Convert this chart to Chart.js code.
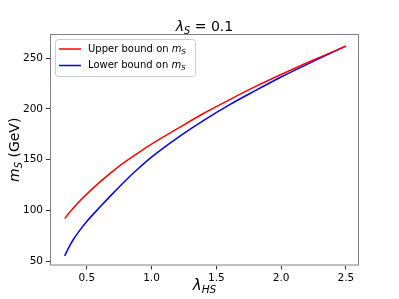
<!DOCTYPE html>
<html>
<head>
    <title>Bounds on m_S</title>
    <meta charset="UTF-8">
    <script src="https://cdn.jsdelivr.net/npm/chart.js"></script>
    <style>
        body { margin: 0; background: #fff; }
        canvas { display: block; }
    </style>
</head>
<body>
    <canvas id="boundsChart" width="399" height="299"></canvas>
    <script>
        // values
        const lambdaHS = [0.33, 0.35, 0.37, 0.4, 0.45, 0.5, 0.6, 0.7, 0.8, 0.9, 1.0, 1.2, 1.4, 1.6, 1.8, 2.0, 2.2, 2.4, 2.5];
        const upperMS = [92, 95.2, 98.3, 102.8, 109.7, 116, 127.8, 138.5, 148.2, 157, 165.3, 180.5, 195.5, 209, 222, 234, 245.5, 256.5, 262];
        const lowerMS = [55, 60.5, 65.5, 72, 81, 89, 103, 116.5, 129.5, 141.5, 152.5, 171.5, 188.5, 204, 218, 231.5, 244, 256, 262];
        const xTicks = [0.5, 1.0, 1.5, 2.0, 2.5];
        const yTicks = [50, 100, 150, 200, 250];
        const seriesNames = ['Upper bound on ', 'Lower bound on '];
        const seriesColors = ['#ff0000', '#0000ff'];

        const FONT = "'DejaVu Sans', sans-serif";

        function toPoints(ys) {
            return lambdaHS.map((x, i) => ({ x: x, y: ys[i] }));
        }

        // draws text pieces like λ + subscript S
        function drawRich(ctx, parts, x, y, size, align) {
            let total = 0;
            const sized = parts.map(p => {
                const s = p.sub ? size * 0.7 : size;
                ctx.font = (p.italic ? 'italic ' : '') + s + 'px ' + FONT;
                const w = ctx.measureText(p.t).width;
                total += w;
                return { p: p, s: s, w: w };
            });
            let cx = align === 'center' ? x - total / 2 : x;
            ctx.textBaseline = 'middle';
            ctx.textAlign = 'left';
            sized.forEach(o => {
                ctx.font = (o.p.italic ? 'italic ' : '') + o.s + 'px ' + FONT;
                ctx.fillText(o.p.t, cx, o.p.sub ? y + size * 0.3 : y);
                cx += o.w;
            });
        }

        const decorations = {
            id: 'decorations',
            afterDraw(chart) {
                const ctx = chart.ctx;
                const a = chart.chartArea;
                ctx.save();
                // frame
                ctx.strokeStyle = '#808080';
                ctx.lineWidth = 1;
                ctx.strokeRect(a.left + 0.5, a.top + 0.5, a.right - a.left - 1, a.bottom - a.top - 1);

                ctx.fillStyle = '#000';
                const midX = (a.left + a.right) / 2;
                // title
                drawRich(ctx, [{ t: 'λ', italic: true }, { t: 'S', italic: true, sub: true }, { t: ' = 0.1' }], midX, 27, 14, 'center');
                // x label
                drawRich(ctx, [{ t: 'λ', italic: true }, { t: 'HS', italic: true, sub: true }], midX, 286, 15, 'center');
                // y label
                ctx.save();
                ctx.translate(15, (a.top + a.bottom) / 2);
                ctx.rotate(-Math.PI / 2);
                drawRich(ctx, [{ t: 'm', italic: true }, { t: 'S', italic: true, sub: true }, { t: ' (GeV)' }], 0, 0, 14, 'center');
                ctx.restore();

                // legend
                const lx = a.left + 5, ly = a.top + 5, lw = 140, lh = 37;
                ctx.beginPath();
                ctx.roundRect(lx + 0.5, ly + 0.5, lw, lh, 3);
                ctx.fillStyle = 'rgba(255,255,255,0.8)';
                ctx.fill();
                ctx.strokeStyle = '#cccccc';
                ctx.stroke();
                seriesNames.forEach((name, i) => {
                    const yy = ly + 10 + i * 16.5;
                    ctx.strokeStyle = seriesColors[i];
                    ctx.lineWidth = 1.5;
                    ctx.beginPath();
                    ctx.moveTo(lx + 4, yy);
                    ctx.lineTo(lx + 26, yy);
                    ctx.stroke();
                    ctx.fillStyle = '#000';
                    drawRich(ctx, [{ t: name }, { t: 'm', italic: true }, { t: 'S', italic: true, sub: true }], lx + 33, yy, 10, 'left');
                });
                ctx.restore();
            }
        };

        const ctx = document.getElementById('boundsChart').getContext('2d');
        const chart = new Chart(ctx, {
            type: 'line',
            data: {
                datasets: [{
                    label: 'Upper bound on m_S',
                    data: toPoints(upperMS),
                    borderColor: seriesColors[0],
                    borderWidth: 1.5,
                    pointRadius: 0,
                    cubicInterpolationMode: 'monotone'
                }, {
                    label: 'Lower bound on m_S',
                    data: toPoints(lowerMS),
                    borderColor: seriesColors[1],
                    borderWidth: 1.5,
                    pointRadius: 0,
                    cubicInterpolationMode: 'monotone'
                }]
            },
            options: {
                responsive: false,
                animation: false,
                layout: { padding: { left: 0, top: 34, right: 40, bottom: 0 } },
                scales: {
                    x: {
                        type: 'linear',
                        min: 0.2165,
                        max: 2.601,
                        afterBuildTicks: s => { s.ticks = xTicks.map(v => ({ value: v })); },
                        afterFit: s => { s.height = 33.5; },
                        border: { display: false },
                        grid: { drawOnChartArea: false, drawTicks: true, tickLength: 4, color: '#333' },
                        ticks: {
                            color: '#000',
                            padding: 2,
                            maxRotation: 0,
                            font: { family: FONT, size: 10.5 },
                            callback: v => v.toFixed(1)
                        }
                    },
                    y: {
                        min: 45.6,
                        max: 273.9,
                        afterBuildTicks: s => { s.ticks = yTicks.map(v => ({ value: v })); },
                        afterFit: s => { s.width = 50; },
                        border: { display: false },
                        grid: { drawOnChartArea: false, drawTicks: true, tickLength: 4, color: '#333' },
                        ticks: {
                            color: '#000',
                            padding: 3,
                            font: { family: FONT, size: 10.5 },
                            callback: v => String(v)
                        }
                    }
                },
                plugins: {
                    legend: { display: false },
                    title: { display: false },
                    tooltip: { enabled: false }
                }
            },
            plugins: [decorations]
        });
    </script>
</body>
</html>
